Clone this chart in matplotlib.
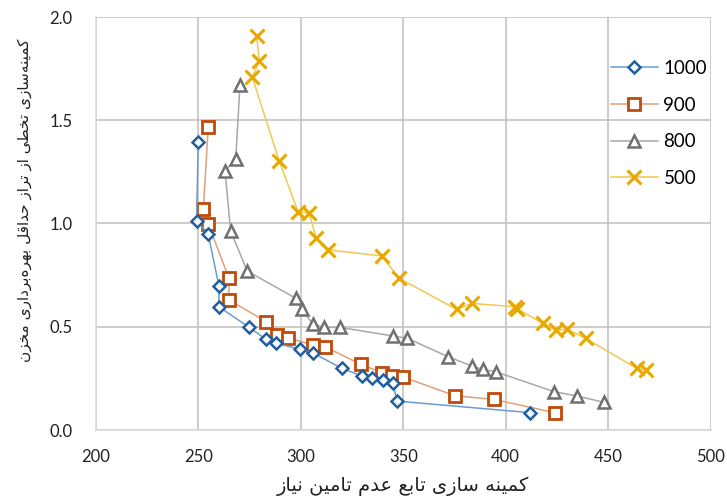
import matplotlib
matplotlib.use("Agg")
import matplotlib.pyplot as plt

# series
x_1000 = [249.9, 249.1, 254.8, 260.0, 260.0, 274.8, 283.0, 287.8, 299.6, 305.8,
          319.9, 329.7, 334.6, 339.9, 344.8, 347.0, 411.8]
y_1000 = [1.396, 1.014, 0.948, 0.697, 0.597, 0.497, 0.439, 0.420, 0.391, 0.374,
          0.299, 0.262, 0.250, 0.242, 0.229, 0.140, 0.084]

x_900 = [254.8, 252.4, 254.8, 264.9, 264.9, 283.0, 288.2, 293.6, 305.8, 311.8,
         329.3, 339.4, 344.6, 350.1, 375.2, 394.4, 424.0]
y_900 = [1.469, 1.070, 0.998, 0.735, 0.630, 0.525, 0.460, 0.447, 0.412, 0.403,
         0.318, 0.278, 0.263, 0.256, 0.166, 0.148, 0.084]

x_800 = [270.3, 268.2, 263.0, 265.7, 273.8, 297.5, 300.4, 305.8, 311.4, 319.1,
         345.1, 352.0, 371.9, 383.4, 389.0, 395.2, 423.5, 434.6, 448.1]
y_800 = [1.672, 1.311, 1.256, 0.965, 0.770, 0.638, 0.584, 0.513, 0.497, 0.497,
         0.455, 0.444, 0.355, 0.310, 0.293, 0.282, 0.186, 0.165, 0.134]

x_500 = [278.4, 279.7, 276.3, 289.5, 298.7, 304.1, 307.4, 313.4, 339.4, 348.0,
         376.0, 383.4, 404.5, 405.5, 418.0, 424.8, 430.0, 439.0, 463.9, 468.4]
y_500 = [1.908, 1.788, 1.708, 1.301, 1.056, 1.052, 0.930, 0.872, 0.843, 0.735,
         0.584, 0.613, 0.597, 0.588, 0.517, 0.484, 0.488, 0.444, 0.299, 0.291]

x_ticks = [200, 250, 300, 350, 400, 450, 500]
y_ticks = [0.0, 0.5, 1.0, 1.5, 2.0]

xlabel = "کمینه سازی تابع عدم تامین نیاز"
ylabel = "کمینه\u200cسازی تخطی از تراز حداقل بهره\u200cبرداری مخزن"

# arabic presentation forms: isolated, final, initial, medial
FORMS = {
    'ا': ('\uFE8D', '\uFE8E', None, None),
    'ب': ('\uFE8F', '\uFE90', '\uFE91', '\uFE92'),
    'ت': ('\uFE95', '\uFE96', '\uFE97', '\uFE98'),
    'ح': ('\uFEA1', '\uFEA2', '\uFEA3', '\uFEA4'),
    'خ': ('\uFEA5', '\uFEA6', '\uFEA7', '\uFEA8'),
    'د': ('\uFEA9', '\uFEAA', None, None),
    'ر': ('\uFEAD', '\uFEAE', None, None),
    'ز': ('\uFEAF', '\uFEB0', None, None),
    'س': ('\uFEB1', '\uFEB2', '\uFEB3', '\uFEB4'),
    'ط': ('\uFEC1', '\uFEC2', '\uFEC3', '\uFEC4'),
    'ع': ('\uFEC9', '\uFECA', '\uFECB', '\uFECC'),
    'ق': ('\uFED5', '\uFED6', '\uFED7', '\uFED8'),
    'ل': ('\uFEDD', '\uFEDE', '\uFEDF', '\uFEE0'),
    'م': ('\uFEE1', '\uFEE2', '\uFEE3', '\uFEE4'),
    'ن': ('\uFEE5', '\uFEE6', '\uFEE7', '\uFEE8'),
    'ه': ('\uFEE9', '\uFEEA', '\uFEEB', '\uFEEC'),
    'ک': ('\uFB8E', '\uFB8F', '\uFB90', '\uFB91'),
    'ی': ('\uFBFC', '\uFBFD', '\uFBFE', '\uFBFF'),
}


def shape(text):
    out = []
    for i, c in enumerate(text):
        if c not in FORMS:
            out.append(c)
            continue
        prev = text[i - 1] if i > 0 else None
        nxt = text[i + 1] if i + 1 < len(text) else None
        jp = prev in FORMS and FORMS[prev][2] is not None
        jn = FORMS[c][2] is not None and nxt in FORMS
        iso, fin, ini, med = FORMS[c]
        if jp and jn:
            out.append(med)
        elif jp:
            out.append(fin)
        elif jn:
            out.append(ini)
        else:
            out.append(iso)
    s = "".join(ch for ch in out if ch != '\u200c')
    return s[::-1]


plt.rcParams['font.family'] = ['Lato', 'DejaVu Sans']

fig = plt.figure(figsize=(7.27, 4.98), dpi=100)
ax = fig.add_axes([96 / 727, 68 / 498, 614.5 / 727, 413 / 498])

ax.plot(x_1000, y_1000, '-', color='#6C9BD2', lw=1.1, marker='D', ms=6.5,
        mfc='white', mec='#1F5F9F', mew=1.8, label='1000', zorder=6)
ax.plot(x_900, y_900, '-', color='#E0A07A', lw=1.1, marker='s', ms=8.5,
        mfc='white', mec='#C04A0A', mew=2.0, label='900', zorder=5)
ax.plot(x_800, y_800, '-', color='#A8A8A8', lw=1.1, marker='^', ms=9,
        mfc='white', mec='#707070', mew=1.8, label='800', zorder=4)
ax.plot(x_500, y_500, '-', color='#F2C850', lw=1.1, marker='x', ms=9.5,
        mec='#E8A800', mew=2.2, label='500', zorder=3)

ax.set_xlim(200, 500)
ax.set_ylim(0, 2.0)
ax.set_xticks(x_ticks)
ax.set_yticks(y_ticks)
ax.set_yticklabels([f"{v:.1f}" for v in y_ticks])
ax.tick_params(length=0, labelsize=12, colors='#222222')
ax.tick_params(axis='x', pad=14)
ax.tick_params(axis='y', pad=17)
ax.grid(True, color='#BFBFBF', lw=1.1)
ax.set_axisbelow(True)
for side in ['top', 'right']:
    ax.spines[side].set_visible(False)
for side in ['left', 'bottom']:
    ax.spines[side].set_color('#D9D9D9')
    ax.spines[side].set_linewidth(1.1)

fig.text(403 / 727, 1 - 486 / 498, shape(xlabel), ha='center', va='center',
         fontsize=14, family='DejaVu Sans', color='#222222')
fig.text(25 / 727, 1 - 200 / 498, shape(ylabel), ha='center', va='center',
         rotation=90, fontsize=11, family='DejaVu Sans', color='#222222')

ax.legend(loc='upper left', bbox_to_anchor=(611 / 727, 1 - 60 / 498),
          bbox_transform=fig.transFigure, frameon=False, fontsize=13.5,
          handlelength=2.5, handletextpad=0.3, labelspacing=1.05,
          borderaxespad=0, borderpad=0)

fig.savefig("out.png", dpi=100)
